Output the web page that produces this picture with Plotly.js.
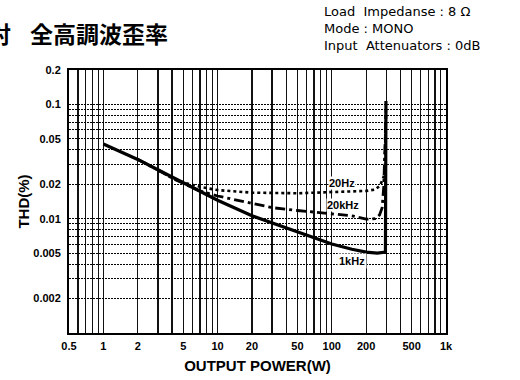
<!DOCTYPE html>
<html>
<head>
<meta charset="utf-8">
<script src="https://cdn.plot.ly/plotly-3.0.1.min.js"></script>
<style>html,body{margin:0;padding:0;background:#fff;}#chart{width:520px;height:380px;}</style>
</head>
<body>
<div id="chart"></div>
<script>
// ---- data ----
const power1k  = [1, 2, 3, 5, 10, 20, 50, 100, 150, 200, 250, 295, 298];
const thd1k    = [0.045, 0.033, 0.0268, 0.0208, 0.0145, 0.0106, 0.0077, 0.006, 0.0054, 0.0051, 0.005, 0.0051, 0.107];

const power20  = [2, 3, 4, 5, 7, 10, 20, 50, 100, 150, 200, 240, 265, 290, 298];
const thd20    = [0.033, 0.0268, 0.0228, 0.0208, 0.019, 0.0178, 0.0169, 0.0167, 0.017, 0.0172, 0.0175, 0.018, 0.0195, 0.0245, 0.09];

const power20k = [2, 3, 4, 5, 7, 10, 20, 30, 50, 85, 150, 200, 240, 262, 276, 285, 298];
const thd20k   = [0.033, 0.0268, 0.0226, 0.0203, 0.0175, 0.0158, 0.0135, 0.0125, 0.0118, 0.0112, 0.0106, 0.0099, 0.0100, 0.0108, 0.0125, 0.019, 0.08];

const xTickVals = [0.5,0.6,0.7,0.8,0.9,1,2,3,4,5,6,7,8,9,10,20,30,40,50,60,70,80,90,100,200,300,400,500,600,700,800,900,1000];
const xTickText = ['0.5','','','','','1','2','','','5','','','','','10','20','','','50','','','','','100','200','','','500','','','','','1k'];
const yTickVals = [0.001,0.002,0.003,0.004,0.005,0.006,0.007,0.008,0.009,0.01,0.02,0.03,0.04,0.05,0.06,0.07,0.08,0.09,0.1,0.2];
const yTickText = ['','0.002','','','0.005','','','','','0.01','0.02','','','0.05','','','','','0.1','0.2'];

const titleLeft = '対';
const titleMain = '全高調波歪率';
const infoLines = ['Load\u00a0\u00a0Impedanse : 8 Ω', 'Mode : MONO', 'Input\u00a0\u00a0Attenuators : 0dB'];
const curveLabels = ['20Hz', '20kHz', '1kHz'];

const boldFam = 'Liberation Sans Narrow, Arial Narrow, Liberation Sans, Arial, sans-serif';
const tickFont = {family: boldFam, size: 11, color: '#000', weight: 'bold'};

const traces = [
  {x: power20, y: thd20, mode: 'lines', line: {color: '#000', width: 2.6, dash: '3px,3px'}, hoverinfo: 'skip'},
  {x: power20k, y: thd20k, mode: 'lines', line: {color: '#000', width: 2.8, dash: '10px,4px,3px,4px'}, hoverinfo: 'skip'},
  {x: power1k, y: thd1k, mode: 'lines', line: {color: '#000', width: 3.2}, hoverinfo: 'skip'}
];

const annFont = {family: boldFam, size: 11, color: '#000', weight: 'bold'};
const cjkFont = {family: 'Noto Sans CJK JP, Noto Sans CJK SC, sans-serif', size: 23, color: '#000'};
const infoFont = {family: 'DejaVu Sans, Liberation Sans, Arial, sans-serif', size: 13, color: '#000'};
// paper coords: x = (px-69)/377, y = (333-py)/263
const annotations = [
  {xref: 'paper', yref: 'paper', x: (13 - 69) / 377, y: (333 - 33) / 263, xanchor: 'right', yanchor: 'middle', showarrow: false,
   text: '<b>' + titleLeft + '</b>', font: cjkFont},
  {xref: 'paper', yref: 'paper', x: (28 - 69) / 377, y: (333 - 33) / 263, xanchor: 'left', yanchor: 'middle', showarrow: false,
   text: '<b>' + titleMain + '</b>', font: cjkFont},
  {xref: 'paper', yref: 'paper', x: (322 - 69) / 377, y: (333 - 28.5) / 263, xanchor: 'left', yanchor: 'middle', align: 'left', showarrow: false,
   text: infoLines.join('<br>'), font: infoFont},
  {xref: 'paper', yref: 'paper', x: (342 - 69) / 377, y: (333 - 183) / 263, xanchor: 'center', yanchor: 'middle', showarrow: false,
   text: curveLabels[0], font: annFont, bgcolor: '#fff', borderpad: 0},
  {xref: 'paper', yref: 'paper', x: (343 - 69) / 377, y: (333 - 205) / 263, xanchor: 'center', yanchor: 'middle', showarrow: false,
   text: curveLabels[1], font: annFont, bgcolor: '#fff', borderpad: 0},
  {xref: 'paper', yref: 'paper', x: (352 - 69) / 377, y: (333 - 261) / 263, xanchor: 'center', yanchor: 'middle', showarrow: false,
   text: curveLabels[2], font: annFont, bgcolor: '#fff', borderpad: 1}
];

const layout = {
  width: 520, height: 380,
  margin: {l: 69, r: 74, t: 70, b: 47, pad: 0},
  paper_bgcolor: '#fff', plot_bgcolor: '#fff',
  showlegend: false,
  xaxis: {
    type: 'log', range: [Math.log10(0.5), Math.log10(1000)],
    tickvals: xTickVals, ticktext: xTickText, tickfont: tickFont,
    ticks: '', ticklabelstandoff: 2,
    showgrid: true, gridcolor: '#111', gridwidth: 1.3,
    showline: true, linecolor: '#000', linewidth: 2, mirror: true,
    zeroline: false, fixedrange: true,
    title: {text: 'OUTPUT POWER(W)', standoff: 9,
            font: {family: boldFam, size: 15, color: '#000', weight: 'bold'}}
  },
  yaxis: {
    type: 'log', range: [Math.log10(0.001), Math.log10(0.2)],
    tickvals: yTickVals, ticktext: yTickText, tickfont: tickFont,
    ticks: '', ticklabelstandoff: 4,
    showgrid: true, gridcolor: '#000', gridwidth: 1, griddash: '2px,1px',
    showline: true, linecolor: '#000', linewidth: 2, mirror: true,
    zeroline: false, fixedrange: true,
    title: {text: 'THD(%)', standoff: 0,
            font: {family: boldFam, size: 15, color: '#000', weight: 'bold'}}
  },
  annotations: annotations
};

Plotly.newPlot('chart', traces, layout, {displayModeBar: false, staticPlot: true});
</script>
</body>
</html>
